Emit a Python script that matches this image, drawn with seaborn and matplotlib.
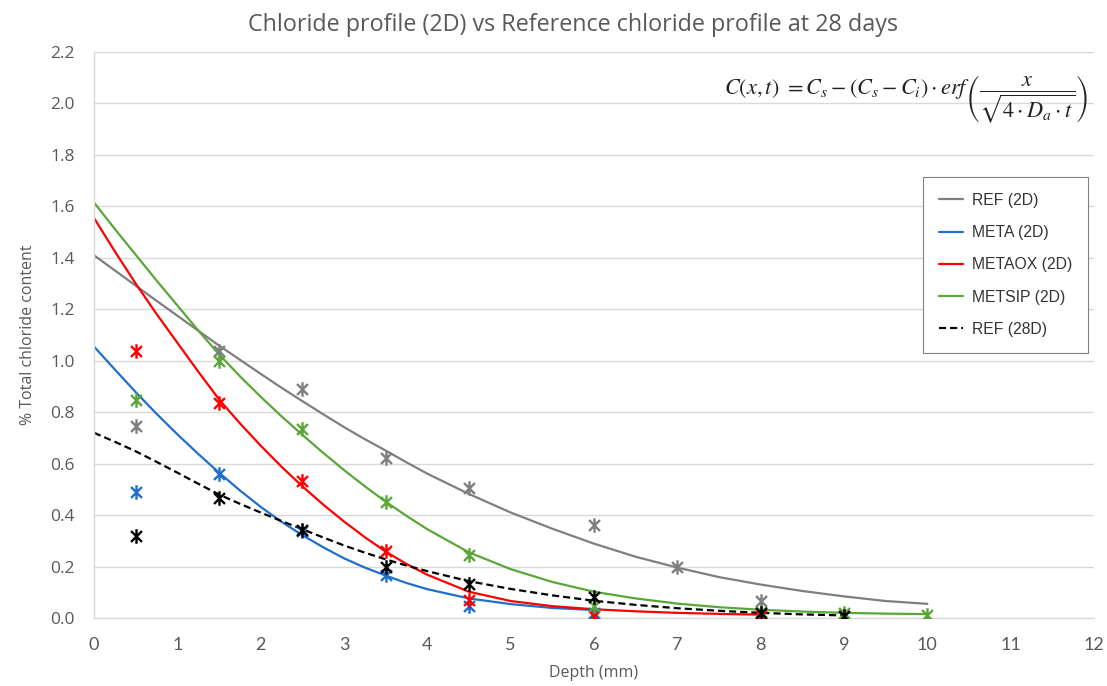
import numpy as np
import pandas as pd
import matplotlib
matplotlib.use("Agg")
import matplotlib.pyplot as plt
from matplotlib.path import Path
import seaborn as sns

# ---- measured chloride contents (% of binder) ----
pt_depth = [0.5, 1.5, 2.5, 3.5, 4.5, 6, 7, 8, 9, 10]
ref2d_pts = [0.745, 1.036, 0.890, 0.620, 0.505, 0.360, 0.200, 0.065, None, None]
meta_pts = [0.490, 0.560, 0.340, 0.168, 0.045, 0.020, None, None, None, None]
metaox_pts = [1.036, 0.835, 0.531, 0.260, 0.070, 0.008, None, 0.007, None, None]
metsip_pts = [0.848, 1.000, 0.736, 0.452, 0.245, 0.045, None, 0.025, 0.020, 0.012]
ref28_pts = [0.317, 0.466, 0.341, 0.200, 0.133, 0.083, None, 0.018, 0.008, None]

# ---- fitted profiles (erf solution of Fick's 2nd law) ----
fit_depth = [0, 0.25, 0.5, 0.75, 1, 1.25, 1.5, 1.75, 2, 2.25, 2.5, 2.75, 3, 3.25, 3.5,
             3.75, 4, 4.5, 5, 5.5, 6, 6.5, 7, 7.5, 8, 8.5, 9, 9.5, 10]
ref2d_fit = [1.410, 1.351, 1.292, 1.233, 1.175, 1.117, 1.059, 1.004, 0.949, 0.895,
             0.843, 0.792, 0.742, 0.695, 0.651, 0.605, 0.561, 0.482, 0.410, 0.347,
             0.289, 0.238, 0.196, 0.159, 0.130, 0.105, 0.084, 0.066, 0.055]
meta_fit = [1.055, 0.966, 0.878, 0.794, 0.714, 0.638, 0.565, 0.496, 0.432, 0.374,
            0.322, 0.275, 0.232, 0.196, 0.165, 0.136, 0.112, 0.076, 0.054, 0.039,
            0.031]
metaox_fit = [1.555, 1.425, 1.300, 1.182, 1.070, 0.958, 0.850, 0.757, 0.670, 0.588,
              0.512, 0.441, 0.375, 0.314, 0.258, 0.210, 0.168, 0.102, 0.066, 0.046,
              0.034, 0.026, 0.020, 0.016, 0.013]
metsip_fit = [1.615, 1.512, 1.412, 1.312, 1.215, 1.118, 1.025, 0.940, 0.860, 0.784,
              0.712, 0.642, 0.575, 0.512, 0.452, 0.397, 0.345, 0.255, 0.190, 0.140,
              0.102, 0.076, 0.056, 0.042, 0.032, 0.025, 0.020, 0.017, 0.015]
ref28_fit = [0.720, 0.685, 0.648, 0.607, 0.565, 0.522, 0.480, 0.444, 0.410, 0.377,
             0.345, 0.313, 0.282, 0.254, 0.228, 0.204, 0.182, 0.143, 0.113, 0.088,
             0.067, 0.051, 0.038, 0.028, 0.020, 0.014, 0.010]

series = [
    ("REF (2D)", ref2d_pts, ref2d_fit, "#7f7f7f", "-"),
    ("META (2D)", meta_pts, meta_fit, "#1f6fcb", "-"),
    ("METAOX (2D)", metaox_pts, metaox_fit, "#ff0000", "-"),
    ("METSIP (2D)", metsip_pts, metsip_fit, "#5aa638", "-"),
    ("REF (28D)", ref28_pts, ref28_fit, "#000000", (0, (3.2, 1.8))),
]

x_ticks = list(range(0, 13))
y_ticks = [0.0, 0.2, 0.4, 0.6, 0.8, 1.0, 1.2, 1.4, 1.6, 1.8, 2.0, 2.2]

sns.set_theme(style="whitegrid")
plt.rcParams["font.family"] = ["Open Sans", "DejaVu Sans"]
plt.rcParams["mathtext.fontset"] = "stix"

text_col = "#595959"
grid_col = "#d9d9d9"

fig = plt.figure(figsize=(11.07, 6.86), dpi=100)
ax = fig.add_axes([94 / 1107, 68 / 686, 1000 / 1107, 566 / 686])

# star marker: vertical stroke plus a cross
star = Path(
    [(0, -1), (0, 1), (-0.75, -0.75), (0.75, 0.75), (-0.75, 0.75), (0.75, -0.75)],
    [Path.MOVETO, Path.LINETO, Path.MOVETO, Path.LINETO, Path.MOVETO, Path.LINETO],
)

for name, pts, fit, col, ls in series:
    df_fit = pd.DataFrame({"depth": fit_depth[:len(fit)], "cl": fit})
    sns.lineplot(data=df_fit, x="depth", y="cl", color=col, lw=1.6,
                 linestyle=ls, label=name, ax=ax, zorder=2)
    df_pts = pd.DataFrame({"depth": pt_depth, "cl": pts}).dropna()
    sns.scatterplot(data=df_pts, x="depth", y="cl", marker=star, s=110,
                    color=col, edgecolor=col, linewidth=1.7, ax=ax,
                    zorder=3, legend=False)

ax.set_xlim(0, 12)
ax.set_ylim(0, 2.2)
ax.set_xticks(x_ticks)
ax.set_yticks(y_ticks)
ax.set_yticklabels([f"{v:.1f}" for v in y_ticks])
ax.tick_params(axis="both", length=0, labelsize=12.5, labelcolor=text_col)
ax.tick_params(axis="y", pad=14)
ax.tick_params(axis="x", pad=14)
for lab in ax.get_xticklabels():
    lab.set_fontfamily(["Lato", "DejaVu Sans"])
    lab.set_fontsize(13)

ax.grid(axis="y", color=grid_col, lw=1.0)
ax.grid(axis="x", visible=False)
for side in ["top", "right"]:
    ax.spines[side].set_visible(False)
for side in ["left", "bottom"]:
    ax.spines[side].set_color(grid_col)
    ax.spines[side].set_linewidth(1.0)

ax.set_xlabel("Depth (mm)", fontsize=11.5, color=text_col, labelpad=8)
ax.set_ylabel("% Total chloride content", fontsize=11.5, color=text_col, labelpad=10)
fig.text(0.518, 0.963, "Chloride profile (2D) vs Reference chloride profile at 28 days",
         ha="center", va="center", fontsize=16.8, color=text_col)

leg = ax.legend(loc="upper right", bbox_to_anchor=(0.994, 0.779), frameon=True,
                fancybox=False, edgecolor="#808080", framealpha=1.0,
                borderaxespad=0.0, handlelength=1.5, labelspacing=1.1,
                borderpad=1.0, handletextpad=0.6,
                prop={"family": "Liberation Sans", "size": 11.3})
leg.get_frame().set_linewidth(0.8)
for t in leg.get_texts():
    t.set_color("#333333")

fig.text(0.819, 0.855,
         r"$C(x,t)\ =C_s-(C_s-C_i)\cdot erf\left(\dfrac{x}{\sqrt{4\cdot D_a\cdot t}}\right)$",
         ha="center", va="center", fontsize=16, color="#222222")

fig.savefig("out.png", dpi=100, facecolor="white")
